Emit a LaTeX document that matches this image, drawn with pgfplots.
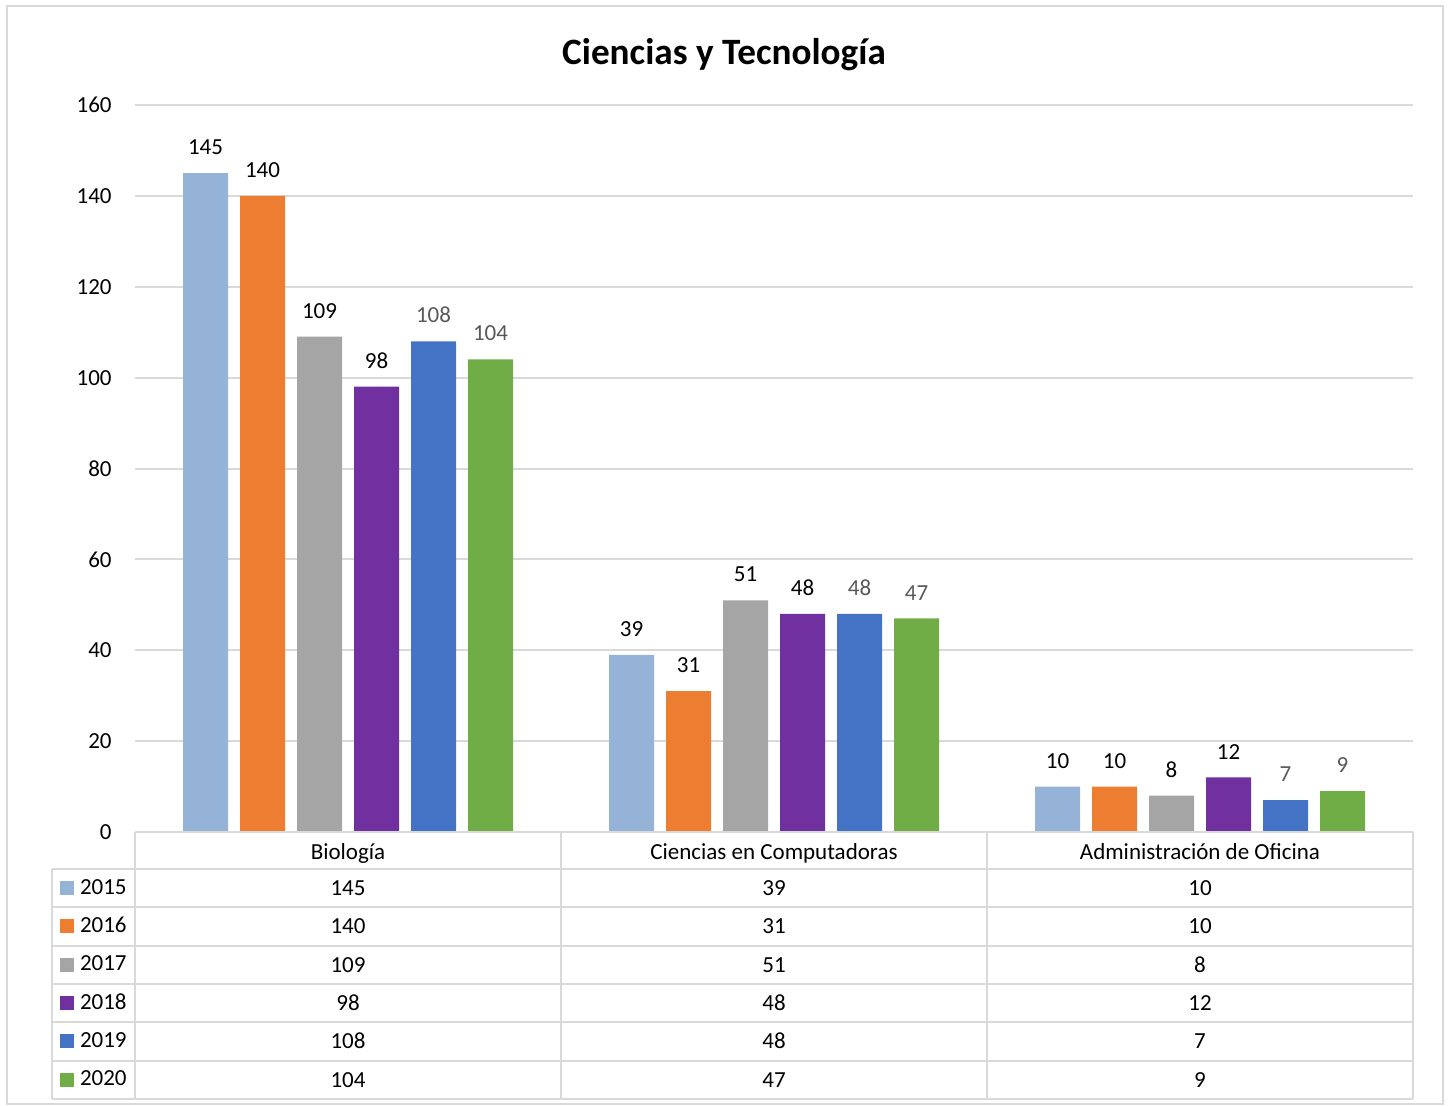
\documentclass[border=0pt]{standalone}
\usepackage{pgfplots}
\pgfplotsset{compat=1.18}
\usepackage{fontspec}
\setmainfont{Carlito}
\definecolor{c2015}{HTML}{95B3D7}
\definecolor{c2016}{HTML}{ED7D31}
\definecolor{c2017}{HTML}{A5A5A5}
\definecolor{c2018}{HTML}{7030A0}
\definecolor{c2019}{HTML}{4472C4}
\definecolor{c2020}{HTML}{70AD47}
\definecolor{gridc}{HTML}{D9D9D9}
\definecolor{labgray}{HTML}{595959}
\newcommand{\lfont}{\fontsize{11.5}{13.8}\selectfont}
\begin{document}
\begin{tikzpicture}[x=0.5pt,y=-0.5pt]
\path (0,0) rectangle (1448,1105);
\coordinate (A) at (135,832);
\coordinate (B) at (135,1099);
\draw[gridc, line width=1pt] (7,6) rectangle (1443,1104);
\node[anchor=base, font=\fontsize{18.6}{22}\selectfont\bfseries] at (724,64) {Ciencias y Tecnología};
\begin{axis}[
  at={(A)}, anchor=south west,
  scale only axis, width=639pt, height=363.5pt,
  xmin=-0.5, xmax=2.5, ymin=0, ymax=160,
  ybar=6pt, bar width=22.5pt,
  ytick={0,20,...,160},
  xtick={0,1,2},
  xticklabels={Biología, Ciencias en Computadoras, Administración de Oficina},
  xticklabel style={anchor=base, inner sep=0pt, yshift=-13.5pt, font=\lfont},
  yticklabel style={inner sep=0pt, xshift=-11.5pt, font=\lfont},
  /pgf/number format/assume math mode=true,
  major tick length=0pt,
  axis line style={draw=none},
  ymajorgrids, grid style={gridc, line width=1pt},
  nodes near coords,
  nodes near coords style={font=\lfont, inner sep=0pt, anchor=south, yshift=9pt, text=black},
  clip=false,
]
\addplot[fill=c2015, draw=none] coordinates {(0,145) (1,39) (2,10)};
\addplot[fill=c2016, draw=none] coordinates {(0,140) (1,31) (2,10)};
\addplot[fill=c2017, draw=none] coordinates {(0,109) (1,51) (2,8)};
\addplot[fill=c2018, draw=none] coordinates {(0,98) (1,48) (2,12)};
\addplot[fill=c2019, draw=none, nodes near coords style={text=labgray}] coordinates {(0,108) (1,48) (2,7)};
\addplot[fill=c2020, draw=none, nodes near coords style={text=labgray}] coordinates {(0,104) (1,47) (2,9)};
\end{axis}
% data table
\foreach \yy in {869,907,946,984,1022,1061,1099} {\draw[gridc, line width=1pt] (52,\yy) -- (1413,\yy);}
\draw[gridc, line width=1pt] (135,832) -- (1413,832);
\draw[gridc, line width=1pt] (52,869) -- (52,1099);
\foreach \xx in {135,561,987,1413} {\draw[gridc, line width=1pt] (\xx,832) -- (\xx,1099);}
\begin{axis}[
  at={(B)}, anchor=south west,
  scale only axis, width=639pt, height=133.5pt,
  xmin=-0.5, xmax=2.5, ymin=-1099, ymax=-832,
  hide axis, clip=false,
  nodes near coords, point meta=explicit symbolic,
  nodes near coords style={font=\lfont, inner sep=0pt, anchor=base, yshift=0pt, text=black},
  legend style={at={(rel axis cs:-0.05869,0.8614)}, anchor=north west, draw=none, fill=none,
    inner sep=0pt, outer sep=0pt, row sep=0pt, column sep=3pt,
    nodes={inner sep=0pt, minimum height=19.15pt, font=\lfont, text=black}},
  legend cell align=left,
  legend image code/.code={\fill[#1] (0pt,-3.5pt) rectangle (7pt,3.5pt);},
]
\addplot[c2015, draw=none, mark=none] coordinates {(0,-895)[145] (1,-895)[39] (2,-895)[10]};
\addplot[c2016, draw=none, mark=none] coordinates {(0,-933.5)[140] (1,-933.5)[31] (2,-933.5)[10]};
\addplot[c2017, draw=none, mark=none] coordinates {(0,-972)[109] (1,-972)[51] (2,-972)[8]};
\addplot[c2018, draw=none, mark=none] coordinates {(0,-1010)[98] (1,-1010)[48] (2,-1010)[12]};
\addplot[c2019, draw=none, mark=none] coordinates {(0,-1048.5)[108] (1,-1048.5)[48] (2,-1048.5)[7]};
\addplot[c2020, draw=none, mark=none] coordinates {(0,-1087)[104] (1,-1087)[47] (2,-1087)[9]};
\legend{2015,2016,2017,2018,2019,2020}
\end{axis}
\end{tikzpicture}
\end{document}
